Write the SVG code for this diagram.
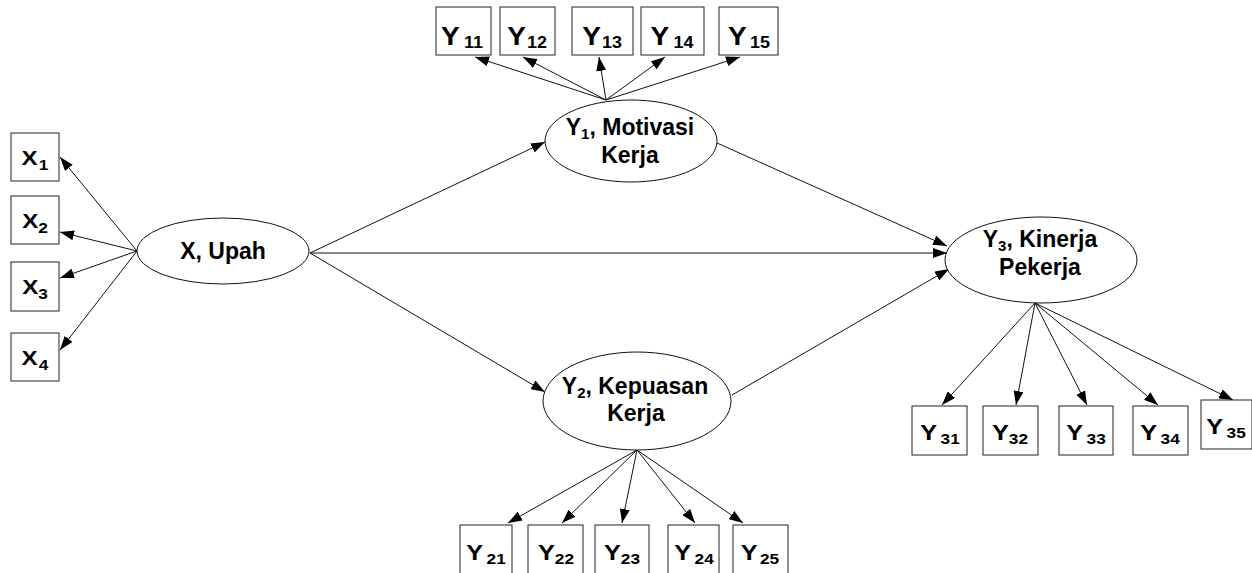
<svg xmlns="http://www.w3.org/2000/svg" width="1252" height="573" viewBox="0 0 1252 573">
  <style>
    .box { fill: #fff; stroke: #222; stroke-width: 1; }
    .lat { fill: #fff; stroke: #111; stroke-width: 1; }
    .lbl { font-family: "Liberation Sans", Arial, sans-serif; font-weight: bold; fill: #000; text-anchor: middle; }
    .big { font-size: 23px; }
    .ytop { font-size: 25px; }
    .ylow { font-size: 22px; }
    .xlbl { font-size: 21px; }
    .sub { font-size: 15px; }
    .subl { font-size: 16px; }
    .edge { stroke: #111; stroke-width: 1; fill: none; marker-end: url(#arrow); }
  </style>
  <defs>
    <marker id="arrow" markerUnits="userSpaceOnUse" markerWidth="14" markerHeight="10" refX="14" refY="5" orient="auto">
      <path d="M0,0 L14,5 L0,10 z" fill="#000"/>
    </marker>
  </defs>
  <rect width="1252" height="573" fill="#fff"/>

  <!-- connectors -->
  <g id="connectors">
    <!-- X, Upah indicators -->
    <line class="edge" x1="137" y1="251" x2="60" y2="157"/>
    <line class="edge" x1="137" y1="251" x2="60" y2="232"/>
    <line class="edge" x1="137" y1="251" x2="60" y2="278"/>
    <line class="edge" x1="137" y1="251" x2="60" y2="350"/>
    <!-- Y1 indicators -->
    <line class="edge" x1="606" y1="100" x2="475" y2="57"/>
    <line class="edge" x1="606" y1="100" x2="523" y2="57"/>
    <line class="edge" x1="606" y1="100" x2="599" y2="57"/>
    <line class="edge" x1="606" y1="100" x2="665" y2="57"/>
    <line class="edge" x1="606" y1="100" x2="740" y2="57"/>
    <!-- Y2 indicators -->
    <line class="edge" x1="637" y1="450" x2="508" y2="523"/>
    <line class="edge" x1="637" y1="450" x2="562" y2="523"/>
    <line class="edge" x1="637" y1="450" x2="622" y2="523"/>
    <line class="edge" x1="637" y1="450" x2="695" y2="523"/>
    <line class="edge" x1="637" y1="450" x2="743" y2="523"/>
    <!-- Y3 indicators -->
    <line class="edge" x1="1035" y1="303" x2="942" y2="405"/>
    <line class="edge" x1="1035" y1="303" x2="1016" y2="405"/>
    <line class="edge" x1="1035" y1="303" x2="1087" y2="405"/>
    <line class="edge" x1="1035" y1="303" x2="1158" y2="405"/>
    <line class="edge" x1="1035" y1="303" x2="1233" y2="400"/>
    <!-- structural paths -->
    <line class="edge" x1="310" y1="253" x2="545" y2="142"/>
    <line class="edge" x1="310" y1="253" x2="947" y2="253"/>
    <line class="edge" x1="310" y1="253" x2="545" y2="392"/>
    <line class="edge" x1="717" y1="143" x2="947" y2="246"/>
    <line class="edge" x1="732" y1="395" x2="949" y2="269"/>
  </g>

  <!-- latent variables -->
  <g id="x-upah">
    <ellipse class="lat" cx="223" cy="251" rx="86" ry="33"/>
    <text class="lbl big" x="223" y="259">X, Upah</text>
  </g>
  <g id="y1-motivasi">
    <ellipse class="lat" cx="631" cy="141" rx="86" ry="41"/>
    <text class="lbl big" x="630" y="135">Y<tspan class="sub" dy="4">1</tspan><tspan dy="-4">, Motivasi</tspan></text>
    <text class="lbl big" x="630" y="163">Kerja</text>
  </g>
  <g id="y2-kepuasan">
    <ellipse class="lat" cx="637" cy="401" rx="94" ry="49"/>
    <text class="lbl big" x="635" y="394">Y<tspan class="sub" dy="4">2</tspan><tspan dy="-4">, Kepuasan</tspan></text>
    <text class="lbl big" x="636" y="421">Kerja</text>
  </g>
  <g id="y3-kinerja">
    <ellipse class="lat" cx="1041" cy="260" rx="96" ry="43"/>
    <text class="lbl big" x="1040" y="247">Y<tspan class="sub" dy="4">3</tspan><tspan dy="-4">, Kinerja</tspan></text>
    <text class="lbl big" x="1040" y="275">Pekerja</text>
  </g>

  <!-- X indicators -->
  <g id="x1"><rect class="box" x="11" y="133" width="48" height="48"/><text class="lbl xlbl" transform="translate(35 165) scale(1.15 1)">X<tspan class="sub" dx="1" dy="5">1</tspan></text></g>
  <g id="x2"><rect class="box" x="11" y="196" width="48" height="48"/><text class="lbl xlbl" transform="translate(35 228) scale(1.15 1)">X<tspan class="sub" dy="5">2</tspan></text></g>
  <g id="x3"><rect class="box" x="11" y="262" width="48" height="49"/><text class="lbl xlbl" transform="translate(35 294) scale(1.15 1)">X<tspan class="sub" dy="5">3</tspan></text></g>
  <g id="x4"><rect class="box" x="11" y="333" width="48" height="48"/><text class="lbl xlbl" transform="translate(35 365) scale(1.15 1)">X<tspan class="sub" dx="1" dy="5">4</tspan></text></g>

  <!-- Y1 indicators -->
  <g id="y11"><rect class="box" x="436" y="7" width="55" height="48"/><text class="lbl ytop" transform="translate(462 45) scale(1.12 1)">Y<tspan class="subl" dx="4" dy="3">11</tspan></text></g>
  <g id="y12"><rect class="box" x="500" y="7" width="55" height="48"/><text class="lbl ytop" transform="translate(527 45) scale(1.12 1)">Y<tspan class="subl" dx="1" dy="3">12</tspan></text></g>
  <g id="y13"><rect class="box" x="572" y="7" width="61" height="48"/><text class="lbl ytop" transform="translate(602 45) scale(1.12 1)">Y<tspan class="subl" dx="1" dy="3">13</tspan></text></g>
  <g id="y14"><rect class="box" x="641" y="7" width="63" height="48"/><text class="lbl ytop" transform="translate(672 45) scale(1.12 1)">Y<tspan class="subl" dx="4" dy="3">14</tspan></text></g>
  <g id="y15"><rect class="box" x="719" y="7" width="59" height="48"/><text class="lbl ytop" transform="translate(749 45) scale(1.12 1)">Y<tspan class="subl" dx="3" dy="3">15</tspan></text></g>

  <!-- Y2 indicators -->
  <g id="y21"><rect class="box" x="460" y="525" width="52" height="60"/><text class="lbl ylow" transform="translate(486 560) scale(1.15 1)">Y<tspan class="sub" dx="3" dy="4">21</tspan></text></g>
  <g id="y22"><rect class="box" x="528" y="525" width="55" height="60"/><text class="lbl ylow" transform="translate(556 560) scale(1.15 1)">Y<tspan class="sub" dy="4">22</tspan></text></g>
  <g id="y23"><rect class="box" x="595" y="525" width="54" height="60"/><text class="lbl ylow" transform="translate(622 560) scale(1.15 1)">Y<tspan class="sub" dy="4">23</tspan></text></g>
  <g id="y24"><rect class="box" x="668" y="525" width="51" height="60"/><text class="lbl ylow" transform="translate(694 560) scale(1.15 1)">Y<tspan class="sub" dx="3" dy="4">24</tspan></text></g>
  <g id="y25"><rect class="box" x="733" y="525" width="55" height="60"/><text class="lbl ylow" transform="translate(760 560) scale(1.15 1)">Y<tspan class="sub" dx="2" dy="4">25</tspan></text></g>

  <!-- Y3 indicators -->
  <g id="y31"><rect class="box" x="912" y="406" width="55" height="49"/><text class="lbl ylow" transform="translate(940 440) scale(1.15 1)">Y<tspan class="sub" dx="3" dy="4">31</tspan></text></g>
  <g id="y32"><rect class="box" x="983" y="406" width="55" height="49"/><text class="lbl ylow" transform="translate(1010 440) scale(1.15 1)">Y<tspan class="sub" dy="4">32</tspan></text></g>
  <g id="y33"><rect class="box" x="1059" y="406" width="54" height="49"/><text class="lbl ylow" transform="translate(1086 440) scale(1.15 1)">Y<tspan class="sub" dx="3" dy="4">33</tspan></text></g>
  <g id="y34"><rect class="box" x="1133" y="406" width="55" height="49"/><text class="lbl ylow" transform="translate(1160 440) scale(1.15 1)">Y<tspan class="sub" dx="3" dy="4">34</tspan></text></g>
  <g id="y35"><rect class="box" x="1201" y="400" width="51" height="49"/><text class="lbl ylow" transform="translate(1226 434) scale(1.15 1)">Y<tspan class="sub" dx="3" dy="4">35</tspan></text></g>
</svg>
